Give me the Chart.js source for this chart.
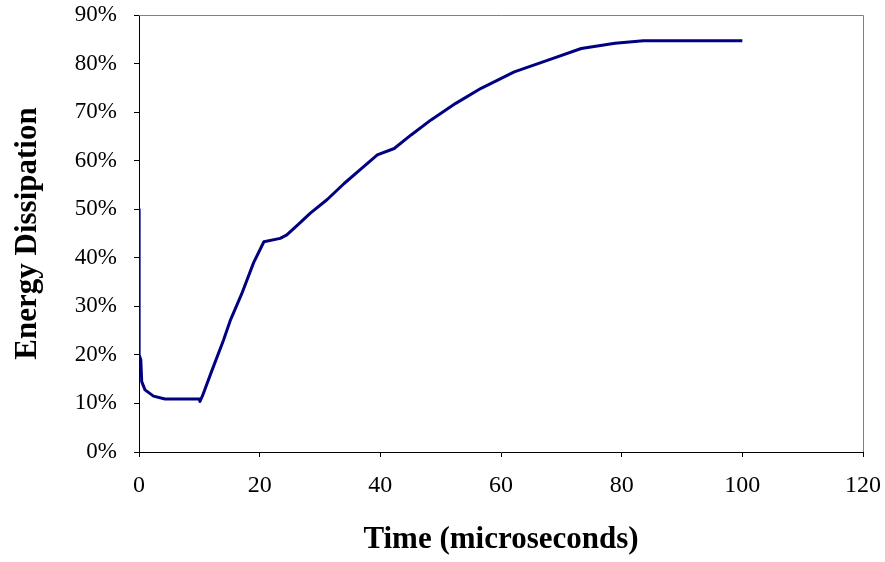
<!DOCTYPE html>
<html>
<head>
<meta charset="utf-8">
<script src="https://cdn.jsdelivr.net/npm/chart.js@4/dist/chart.umd.min.js"></script>
<style>
  html, body { margin: 0; padding: 0; background: #ffffff; }
  #wrap { width: 885px; height: 562px; position: relative; }
</style>
</head>
<body>
<div id="wrap"><canvas id="c" width="885" height="562"></canvas></div>
<script>
// Time in microseconds
const timeUs = [0, 0.02, 0.3, 0.45, 1, 2.4, 4.3, 10, 10.1, 10.5, 12, 14, 15.1, 17, 19, 20.7,
  23.4, 24.5, 26.5, 28.4, 31.2, 34, 37, 39.5, 42.3, 45.1, 48.4, 52.5, 56.7, 62.2, 67.8,
  73.3, 78.9, 83.6, 100];
// Energy dissipation (fraction)
const energy = [0.50, 0.20, 0.19, 0.145, 0.128, 0.115, 0.109, 0.109, 0.104, 0.115, 0.165,
  0.23, 0.27, 0.325, 0.39, 0.433, 0.44, 0.447, 0.47, 0.492, 0.52, 0.553, 0.585, 0.612,
  0.625, 0.653, 0.684, 0.718, 0.749, 0.783, 0.807, 0.831, 0.842, 0.847, 0.847];
const xTicks = [0, 20, 40, 60, 80, 100, 120];
const yTicks = [0, 0.1, 0.2, 0.3, 0.4, 0.5, 0.6, 0.7, 0.8, 0.9];
const xTitle = 'Time (microseconds)';
const yTitle = 'Energy Dissipation';

const points = timeUs.map((t, i) => ({ x: t, y: energy[i] }));

const frame = {
  id: 'frame',
  afterDraw(chart) {
    const { ctx, chartArea: a } = chart;
    ctx.save();
    ctx.lineWidth = 1;
    ctx.strokeStyle = '#808080';
    ctx.beginPath();
    ctx.moveTo(a.left, a.top + 0.5);
    ctx.lineTo(a.right + 0.5, a.top + 0.5);
    ctx.lineTo(a.right + 0.5, a.bottom);
    ctx.stroke();
    ctx.restore();
  }
};

const serif = '"Liberation Serif", "Times New Roman", serif';

new Chart(document.getElementById('c'), {
  type: 'line',
  data: {
    datasets: [{
      data: points,
      borderColor: '#000080',
      backgroundColor: '#000080',
      borderWidth: 3,
      borderJoinStyle: 'round',
      borderCapStyle: 'butt',
      pointRadius: 0,
      tension: 0,
      fill: false
    }]
  },
  options: {
    responsive: false,
    animation: false,
    layout: { padding: { top: 15, right: 22, left: 0, bottom: 0 } },
    plugins: { legend: { display: false }, tooltip: { enabled: false } },
    scales: {
      x: {
        type: 'linear',
        min: 0, max: 120,
        afterBuildTicks(s) { s.ticks = xTicks.map(v => ({ value: v })); },
        afterFit(s) { s.height = 110; s.paddingLeft = 0; s.paddingRight = 0; },
        ticks: {
          color: '#000', padding: 14,
          font: { family: serif, size: 24 },
          maxRotation: 0
        },
        grid: { drawOnChartArea: false, tickLength: 5, color: '#000', tickColor: '#000' },
        border: { display: true, color: '#000', width: 1 },
        title: {
          display: true, text: xTitle, color: '#000',
          font: { family: serif, size: 31, weight: 'bold' },
          padding: { top: 0, bottom: 3 }
        }
      },
      y: {
        type: 'linear',
        min: 0, max: 0.9,
        afterBuildTicks(s) { s.ticks = yTicks.map(v => ({ value: v })); },
        afterFit(s) { s.width = 139; s.paddingTop = 0; s.paddingBottom = 0; },
        ticks: {
          color: '#000', padding: 17,
          font: { family: serif, size: 23 },
          callback: v => Math.round(v * 100) + '%'
        },
        grid: { drawOnChartArea: false, tickLength: 5, color: '#000', tickColor: '#000' },
        border: { display: true, color: '#000', width: 1 },
        title: {
          display: true, text: yTitle, color: '#000',
          font: { family: serif, size: 31, weight: 'bold' },
          padding: { top: 9, bottom: 0 }
        }
      }
    }
  },
  plugins: [frame]
});
</script>
</body>
</html>
